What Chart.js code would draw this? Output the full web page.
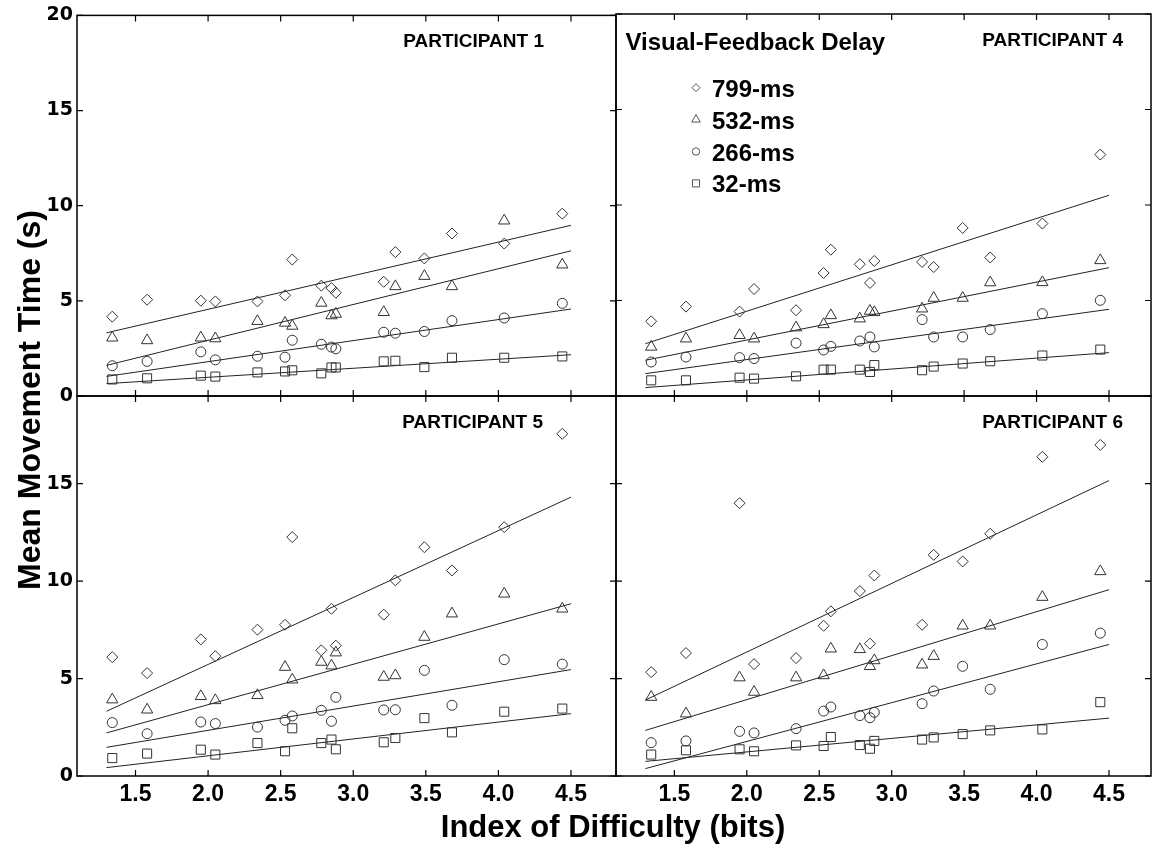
<!DOCTYPE html>
<html>
<head>
<meta charset="utf-8">
<script src="https://cdn.jsdelivr.net/npm/chart.js@4.4.1/dist/chart.umd.min.js"></script>
<style>
html, body { margin: 0; padding: 0; background: #fff; }
#wrap { position: relative; width: 1152px; height: 848px; overflow: hidden; }
#wrap canvas { position: absolute; left: 0; top: 0; }
.ttl { position: absolute; font-family: "Liberation Sans", Arial, sans-serif; font-weight: bold;
       color: #000; white-space: nowrap; text-align: center; }
#xTitle { left: 363px; width: 500px; top: 811px; font-size: 31px; line-height: 31px; }
#yTitle { left: -221px; width: 500px; top: 382px; height: 36px; line-height: 36px; font-size: 32px; transform: rotate(-90deg); }
</style>
</head>
<body>
<div id="wrap">
  <canvas id="p1" width="1152" height="848"></canvas>
  <canvas id="p4" width="1152" height="848"></canvas>
  <canvas id="p5" width="1152" height="848"></canvas>
  <canvas id="p6" width="1152" height="848"></canvas>
  <div class="ttl" id="yTitle">Mean Movement Time (s)</div>
  <div class="ttl" id="xTitle">Index of Difficulty (bits)</div>
</div>
<script>
// index of difficulty of each target condition (bits)
var ids = [1.34, 1.58, 1.95, 2.05, 2.34, 2.53, 2.58, 2.78, 2.85, 2.88, 3.21, 3.29, 3.49, 3.68, 4.04, 4.44];
var delays = ['799-ms', '532-ms', '266-ms', '32-ms'];
var xTicks = [1.5, 2.0, 2.5, 3.0, 3.5, 4.0, 4.5];
var yTicksTop = [0, 5, 10, 15, 20];
var yTicksBottom = [0, 5, 10, 15];
var fitRange = [1.3, 4.5];

// participant 1
var p1_799 = [4.17, 5.06, 5.01, 4.97, 4.97, 5.29, 7.17, 5.80, 5.67, 5.43, 6.00, 7.56, 7.23, 8.54, 8.01, 9.58];
var p1_532 = [3.06, 2.92, 3.06, 3.02, 3.93, 3.84, 3.68, 4.89, 4.23, 4.31, 4.40, 5.76, 6.30, 5.76, 9.21, 6.90];
var p1_266 = [1.59, 1.82, 2.32, 1.90, 2.09, 2.04, 2.93, 2.72, 2.57, 2.48, 3.35, 3.30, 3.39, 3.96, 4.10, 4.87];
var p1_32 = [0.87, 0.93, 1.07, 1.02, 1.24, 1.29, 1.35, 1.19, 1.50, 1.50, 1.82, 1.85, 1.52, 2.01, 2.01, 2.08];
var p1FitStart = [3.32, 1.61, 1.03, 0.65];
var p1FitEnd = [8.97, 7.63, 4.57, 2.17];

// participant 4
var p4_799 = [3.91, 4.68, 4.42, 5.60, 4.49, 6.44, 7.66, 6.90, 5.92, 7.07, 7.02, 6.75, 8.80, 7.25, 9.03, 12.64];
var p4_532 = [2.57, 3.00, 3.18, 3.00, 3.58, 3.75, 4.22, 4.05, 4.45, 4.38, 4.57, 5.13, 5.13, 5.94, 5.95, 7.10];
var p4_266 = [1.78, 2.04, 2.01, 1.96, 2.77, 2.41, 2.60, 2.88, 3.09, 2.57, 4.00, 3.09, 3.09, 3.48, 4.31, 5.01];
var p4_32 = [0.82, 0.82, 0.96, 0.91, 1.03, 1.38, 1.38, 1.38, 1.26, 1.62, 1.35, 1.54, 1.70, 1.82, 2.12, 2.43];
var p4FitStart = [2.74, 1.87, 1.17, 0.44];
var p4FitEnd = [10.51, 6.72, 4.54, 2.27];

// participant 5
var p5_799 = [6.10, 5.28, 7.01, 6.15, 7.51, 7.76, 12.26, 6.45, 8.58, 6.69, 8.28, 10.04, 11.74, 10.55, 12.77, 17.56];
var p5_532 = [3.92, 3.40, 4.09, 3.88, 4.14, 5.59, 4.94, 5.85, 5.66, 6.33, 5.08, 5.16, 7.13, 8.33, 9.35, 8.58];
var p5_266 = [2.74, 2.17, 2.77, 2.69, 2.51, 2.86, 3.08, 3.37, 2.81, 4.04, 3.39, 3.40, 5.42, 3.63, 5.97, 5.74];
var p5_32 = [0.92, 1.15, 1.35, 1.10, 1.69, 1.27, 2.45, 1.69, 1.87, 1.37, 1.73, 1.95, 2.97, 2.24, 3.30, 3.46];
var p5FitStart = [3.32, 2.21, 1.47, 0.43];
var p5FitEnd = [14.31, 8.84, 5.46, 3.20];

// participant 6
var p6_799 = [5.33, 6.31, 14.0, 5.74, 6.05, 7.71, 8.45, 9.49, 6.79, 10.29, 7.76, 11.35, 11.01, 12.43, 16.38, 16.99];
var p6_532 = [4.05, 3.20, 5.05, 4.31, 5.05, 5.16, 6.53, 6.50, 5.63, 5.93, 5.71, 6.15, 7.71, 7.71, 9.18, 10.50];
var p6_266 = [1.71, 1.80, 2.29, 2.21, 2.43, 3.33, 3.54, 3.10, 2.99, 3.27, 3.71, 4.36, 5.63, 4.45, 6.75, 7.33];
var p6_32 = [1.10, 1.32, 1.37, 1.27, 1.57, 1.54, 2.00, 1.59, 1.40, 1.80, 1.87, 1.98, 2.15, 2.34, 2.39, 3.79];
var p6FitStart = [3.90, 2.34, 0.38, 0.75];
var p6FitEnd = [15.16, 9.56, 6.75, 2.97];

var markers = [
  { style: 'rectRot', r: 5.5, lr: 4 },
  { style: 'triangle', r: 6.5, lr: 5 },
  { style: 'circle', r: 5, lr: 3.7 },
  { style: 'rect', r: 6.4, lr: 5 }
];

Chart.defaults.font.family = '"Liberation Sans", Arial, sans-serif';
Chart.defaults.color = '#000';

// box, inward ticks, panel name and (optionally) the delay key
var panelDeco = {
  id: 'panelDeco',
  afterDatasetsDraw: function(chart, args, opts) {
    var ctx = chart.ctx, a = chart.chartArea;
    var xs = chart.scales.x, ys = chart.scales.y;
    ctx.save();
    ctx.strokeStyle = '#000';
    ctx.lineWidth = 1.5;
    ctx.strokeRect(a.left, a.top, a.right - a.left, a.bottom - a.top);
    ctx.lineWidth = 1.2;
    ctx.beginPath();
    xs.ticks.forEach(function(t) {
      var px = xs.getPixelForValue(t.value);
      ctx.moveTo(px, a.top); ctx.lineTo(px, a.top + 6);
      ctx.moveTo(px, a.bottom); ctx.lineTo(px, a.bottom - 6);
    });
    ys.ticks.forEach(function(t) {
      var py = ys.getPixelForValue(t.value);
      ctx.moveTo(a.left, py); ctx.lineTo(a.left + 6, py);
      ctx.moveTo(a.right, py); ctx.lineTo(a.right - 6, py);
    });
    ctx.stroke();

    ctx.fillStyle = '#000';
    ctx.font = 'bold 19px "Liberation Sans", Arial, sans-serif';
    ctx.textAlign = 'right';
    ctx.textBaseline = 'alphabetic';
    ctx.fillText(opts.name, a.right - opts.nameInset, a.top + 32);

    if (opts.key) {
      ctx.textAlign = 'left';
      ctx.font = 'bold 24px "Liberation Sans", Arial, sans-serif';
      ctx.fillText('Visual-Feedback Delay', a.left + 9.5, a.top + 36);
      for (var i = 0; i < delays.length; i++) {
        var ds = chart.data.datasets[i];
        ctx.strokeStyle = '#555';
        ctx.fillStyle = 'rgba(0,0,0,0)';
        ctx.lineWidth = 1;
        Chart.helpers.drawPoint(ctx, { pointStyle: ds.pointStyle, radius: markers[i].lr, borderWidth: 1, rotation: 0 },
          a.left + 80, a.top + 73.7 + i * 31.9);
        ctx.fillStyle = '#000';
        ctx.fillText(ds.label, a.left + 96, a.top + 82.7 + i * 31.9);
      }
    }
    ctx.restore();
  }
};

var Y_AXIS_W = 77;

function makePanel(id, name, series, fitStart, fitEnd, box) {
  var datasets = [];
  series.forEach(function(vals, i) {
    datasets.push({
      label: delays[i],
      data: ids.map(function(x, j) { return { x: x, y: vals[j] }; }),
      pointStyle: markers[i].style,
      pointRadius: markers[i].r,
      pointBorderWidth: 1,
      borderColor: '#333',
      backgroundColor: 'rgba(0,0,0,0)',
      showLine: false
    });
  });
  series.forEach(function(vals, i) {
    datasets.push({
      label: delays[i] + ' fit',
      data: [{ x: fitRange[0], y: fitStart[i] }, { x: fitRange[1], y: fitEnd[i] }],
      showLine: true,
      borderColor: '#222',
      borderWidth: 1,
      pointRadius: 0
    });
  });

  // every canvas is laid out like the left panel and shifted into place
  var shift = box.left - Y_AXIS_W;
  var canvas = document.getElementById(id);
  canvas.style.left = shift + 'px';
  var xAxisH = box.xLabels ? 60 : 0;

  new Chart(canvas, {
    type: 'scatter',
    data: { datasets: datasets },
    options: {
      responsive: false,
      animation: false,
      devicePixelRatio: 1,
      layout: {
        padding: {
          left: 0,
          top: box.top,
          right: 1152 - (box.right - shift),
          bottom: 848 - box.bottom - xAxisH
        }
      },
      plugins: {
        legend: { display: false },
        tooltip: { enabled: false },
        panelDeco: { name: name, nameInset: box.nameInset, key: box.key }
      },
      scales: {
        x: {
          type: 'linear',
          min: 1.097,
          max: box.xMax,
          grid: { display: false, drawTicks: false },
          border: { display: false },
          afterBuildTicks: function(s) { s.ticks = xTicks.map(function(v) { return { value: v }; }); },
          afterFit: function(s) { s.height = xAxisH; },
          ticks: {
            display: box.xLabels,
            padding: 5,
            font: { size: 23, weight: 'bold' },
            callback: function(v) { return Number(v).toFixed(1); }
          }
        },
        y: {
          type: 'linear',
          min: 0,
          max: box.yMax,
          grid: { display: false, drawTicks: false },
          border: { display: false },
          afterBuildTicks: function(s) { s.ticks = box.yTicks.map(function(v) { return { value: v }; }); },
          afterFit: function(s) { s.width = Y_AXIS_W; },
          ticks: {
            display: box.yLabels,
            padding: 4,
            font: { family: '"DejaVu Sans", sans-serif', size: 19, weight: 'bold' }
          }
        }
      }
    },
    plugins: [panelDeco]
  });
}

makePanel('p1', 'PARTICIPANT 1', [p1_799, p1_532, p1_266, p1_32], p1FitStart, p1FitEnd,
  { left: 77, right: 616, top: 14, bottom: 396, yMax: 20, yTicks: yTicksTop, xMax: 4.81,
    yLabels: true, xLabels: false, nameInset: 72, key: false });
makePanel('p4', 'PARTICIPANT 4', [p4_799, p4_532, p4_266, p4_32], p4FitStart, p4FitEnd,
  { left: 616, right: 1151, top: 14, bottom: 396, yMax: 20, yTicks: yTicksTop, xMax: 4.79,
    yLabels: false, xLabels: false, nameInset: 28, key: true });
makePanel('p5', 'PARTICIPANT 5', [p5_799, p5_532, p5_266, p5_32], p5FitStart, p5FitEnd,
  { left: 77, right: 616, top: 396, bottom: 776, yMax: 19.5, yTicks: yTicksBottom, xMax: 4.81,
    yLabels: true, xLabels: true, nameInset: 73, key: false });
makePanel('p6', 'PARTICIPANT 6', [p6_799, p6_532, p6_266, p6_32], p6FitStart, p6FitEnd,
  { left: 616, right: 1151, top: 396, bottom: 776, yMax: 19.5, yTicks: yTicksBottom, xMax: 4.79,
    yLabels: false, xLabels: true, nameInset: 28, key: false });
</script>
</body>
</html>
